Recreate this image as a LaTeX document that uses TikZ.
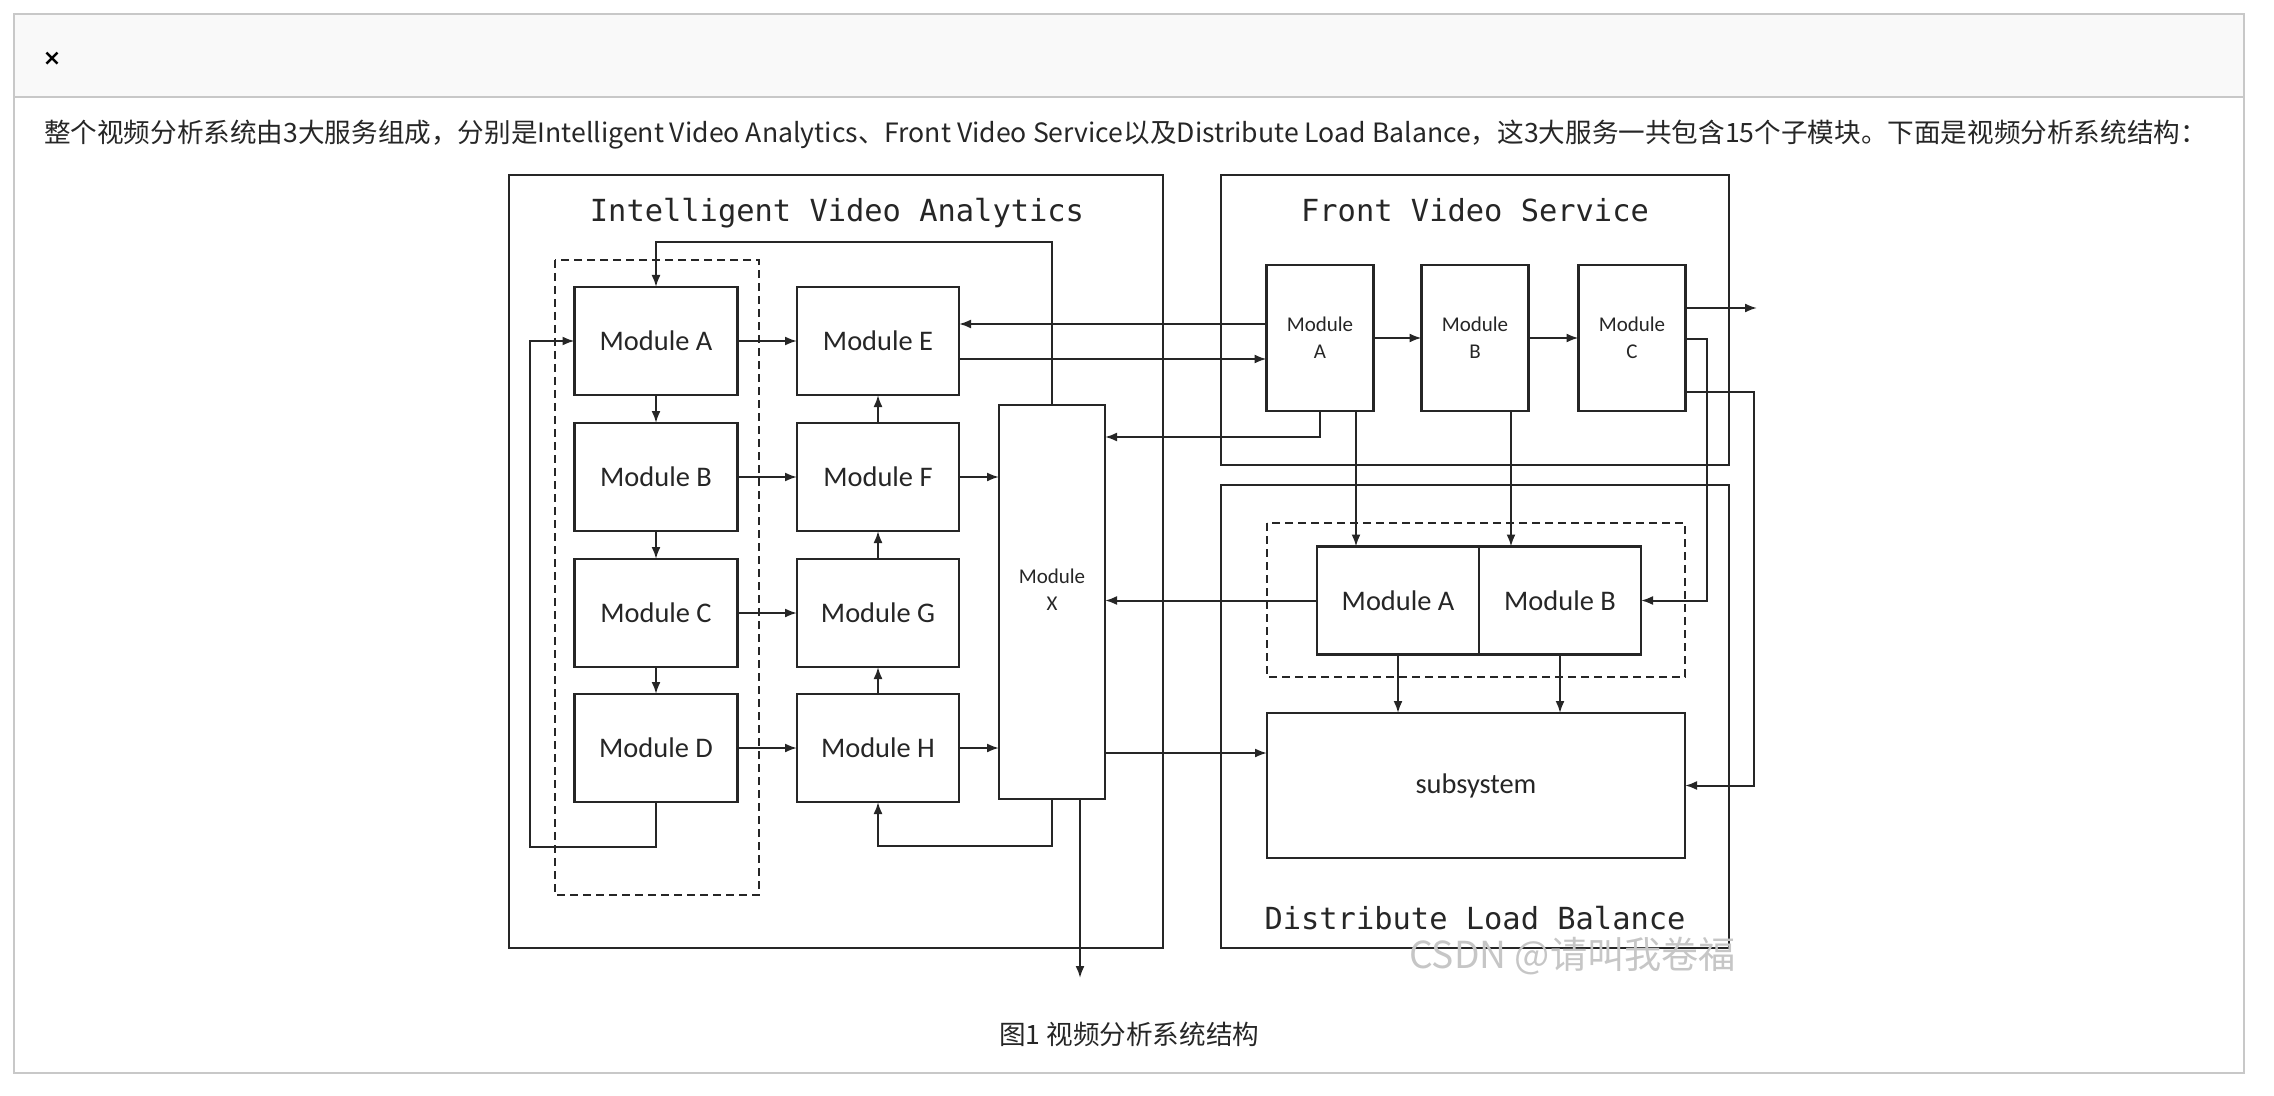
\documentclass[tikz,border=0pt]{standalone}
\usepackage{fontspec}
\setmainfont{Carlito}
\newfontfamily\monofont{DejaVu Sans Mono}
\newfontfamily\cjk{Noto Sans CJK SC}
\newfontfamily\symfont{DejaVu Sans}
\usetikzlibrary{arrows.meta}

\definecolor{cardline}{RGB}{200,200,200}
\definecolor{headfill}{RGB}{249,249,249}
\definecolor{ink}{RGB}{38,38,38}
\definecolor{wmark}{RGB}{198,198,198}

\tikzset{
  mod/.style={draw=ink, line width=1.2pt, inner sep=0pt, outer sep=0pt,
    minimum width=81pt, minimum height=54pt, text=ink,
    font=\fontsize{14.2pt}{17pt}\selectfont},
  fmod/.style={mod, minimum width=53.5pt, minimum height=73pt, align=center,
    font=\fontsize{10.5pt}{13.5pt}\selectfont},
  panel/.style={draw=ink, line width=1.2pt},
  dashbox/.style={draw=ink, line width=1pt, dash pattern=on 4pt off 2.5pt},
  paneltitle/.style={anchor=base, text=ink, font=\monofont\fontsize{15.2pt}{18pt}\selectfont},
  link/.style={draw=ink, line width=1pt, ->},
}

\begin{document}
\begin{tikzpicture}[x=0.5pt, y=-0.5pt, >={Latex[length=6pt,width=4.5pt]}]
    \useasboundingbox (0,0) rectangle (2274,1096);
    % card and header
    \fill[headfill] (14,14) rectangle (2244,97);
    \draw[cardline, line width=1pt] (14,14) rectangle (2244,1073);
    \draw[cardline, line width=1pt] (14,97) -- (2244,97);
    \node[text=black, font=\symfont\bfseries\fontsize{11pt}{13pt}\selectfont] (close) at (52,59) {×};
    \node[anchor=west, text=ink, font=\cjk\fontsize{13.3pt}{15pt}\selectfont] (intro) at (37,135)
        {整个视频分析系统由3大服务组成，分别是Intelligent Video Analytics、Front Video Service以及Distribute Load Balance，这3大服务一共包含15个子模块。下面是视频分析系统结构：};

    % three services
    \draw[panel] (509,175) rectangle (1163,948);
    \draw[panel] (1221,175) rectangle (1729,465);
    \draw[panel] (1221,485) rectangle (1729,948);
    \node[paneltitle] (ivatitle) at (837,222) {Intelligent Video Analytics};
    \node[paneltitle] (fvstitle) at (1475,222) {Front Video Service};
    \node[paneltitle] (dlbtitle) at (1475,929) {Distribute Load Balance};
    \draw[dashbox] (555,260) rectangle (759,895);
    \draw[dashbox] (1267,523) rectangle (1685,677);

    % Intelligent Video Analytics
    \foreach \n/\t/\y in {a/A/341, b/B/477, c/C/613, d/D/748}
        \node[mod, minimum width=81.5pt] (m\n) at (656,\y) {Module \t};
    \foreach \n/\t/\y in {e/E/341, f/F/477, g/G/613, h/H/748}
        \node[mod] (m\n) at (878,\y) {Module \t};
    \node[mod, minimum width=53pt, minimum height=197pt] (mx) at (1052,602) {};
    \node[align=center, text=ink, font=\fontsize{10.5pt}{13.5pt}\selectfont] (mxlabel) at (1052,590) {Module\\X};

    % Front Video Service
    \node[fmod] (fa) at (1320,338) {Module\\A};
    \node[fmod] (fb) at (1475,338) {Module\\B};
    \node[fmod] (fc) at (1632,338) {Module\\C};
    \coordinate (fvsout) at (1757,308);

    % Distribute Load Balance
    \node[mod] (da) at (1398,600.5) {Module A};
    \node[mod] (db) at (1560,600.5) {Module B};
    \node[mod, minimum width=209pt, minimum height=72.5pt] (sub) at (1476,785.5) {subsystem};

    % links inside IVA
    \foreach \p/\q in {a/b, b/c, c/d} \draw[link] (m\p) -- (m\q);
    \foreach \p/\q in {a/e, b/f, c/g, d/h} \draw[link] (m\p) -- (m\q);
    \foreach \p/\q in {f/e, g/f, h/g} \draw[link] (m\p) -- (m\q);
    \foreach \p in {f, h} \draw[link] (m\p.east) -- (m\p.east -| mx.west);
    \draw[link] (mx.north) -- ++(0,-163) -| (ma.north);
    \draw[link] (md.south) -- ++(0,45) -- ++(-126,0) |- (ma.west);
    \draw[link] (mx.south) -- ++(0,47) -| (mh.south);
    \draw[link] ([xshift=14pt]mx.south) -- ++(0,179) coordinate (xout);

    % links from FVS
    \draw[link] (fa) -- (fb);
    \draw[link] (fb) -- (fc);
    \draw[link] (fc.east |- fvsout) -- (fvsout);
    \draw[link] (fa.west |- 0,324) -- (me.east |- 0,324);
    \draw[link] (me.east |- 0,359) -- (fa.west |- 0,359);
    \draw[link] (fa.south) |- (mx.east |- 0,437);
    \draw[link] (fa.south -| 1356,0) -- (da.north -| 1356,0);
    \draw[link] (fb.south -| 1511,0) -- (db.north -| 1511,0);
    \draw[link] (fc.east |- 0,339) -- ++(21,0) |- (db.east);
    \draw[link] (fc.east |- 0,392) -- ++(68,0) |- (sub.east);

    % links of DLB
    \draw[link] (da.west) -- (da.west -| mx.east);
    \draw[link] (da.south) -- (da.south |- sub.north);
    \draw[link] (db.south) -- (db.south |- sub.north);
    \draw[link] (mx.east |- 0,753) -- (sub.west |- 0,753);

    \node[anchor=west, text=wmark, font=\cjk\fontsize{18.6pt}{20pt}\selectfont] (wm) at (1402,956) {CSDN @请叫我卷福};
    \node[anchor=west, text=ink, font=\cjk\fontsize{13.3pt}{15pt}\selectfont] (caption) at (992,1034) {图1 视频分析系统结构};
\end{tikzpicture}
\end{document}
